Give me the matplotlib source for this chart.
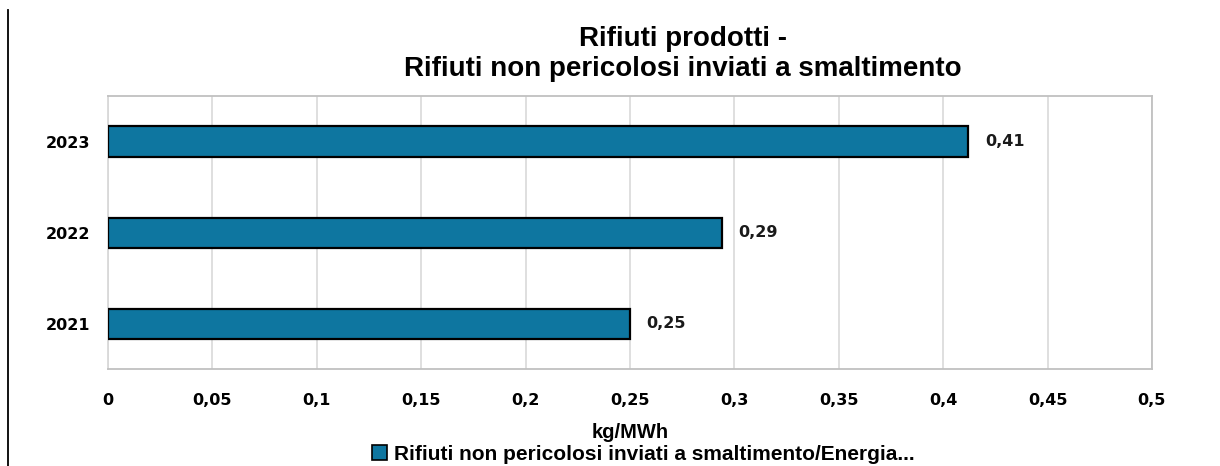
import matplotlib
matplotlib.use('Agg')
import matplotlib.pyplot as plt
from matplotlib.lines import Line2D
from matplotlib.patches import Patch

plt.rcParams['font.family'] = ['Liberation Sans', 'DejaVu Sans']

# kg/MWh of non-hazardous waste sent to disposal
years = ['2021', '2022', '2023']
values = [0.25, 0.294, 0.412]
xticks = [0, 0.05, 0.1, 0.15, 0.2, 0.25, 0.3, 0.35, 0.4, 0.45, 0.5]

BAR_COLOR = '#0e76a0'
GRID = '#d9d9d9'
TICK_FONT = dict(family=['DejaVu Sans'], weight='bold', size=11.5)

fig = plt.figure(figsize=(12.2, 4.66), dpi=100)
ax = fig.add_axes([0.0885, 0.208, 0.8557, 0.586])

y = range(len(years))
ax.barh(y, values, height=0.33, color=BAR_COLOR, edgecolor='black', linewidth=1.6, zorder=3)

for i, v in enumerate(values):
    ax.text(v + 0.008, i, f'{v:.2f}'.replace('.', ','), va='center', ha='left',
            color='#1a1a1a', **TICK_FONT)

ax.set_xlim(0, 0.5)
ax.set_ylim(-0.5, 2.5)
ax.set_xticks(xticks)
ax.set_xticklabels([f'{t:g}'.replace('.', ',') for t in xticks], **TICK_FONT)
ax.set_yticks(list(y))
ax.set_yticklabels(years, **TICK_FONT)
ax.tick_params(axis='both', length=0)
ax.tick_params(axis='x', pad=17)
ax.tick_params(axis='y', pad=13)

ax.xaxis.grid(True, color=GRID, linewidth=1.2, zorder=0)
ax.set_axisbelow(True)
for s in ax.spines.values():
    s.set_color('#c0c0c0')
    s.set_linewidth(1.3)
ax.spines['left'].set_color(GRID)

ax.set_xlabel('kg/MWh', fontsize=14.5, fontweight='bold', labelpad=11)

fig.text(0.56, 0.884, 'Rifiuti prodotti -\nRifiuti non pericolosi inviati a smaltimento',
         ha='center', va='center', fontsize=20, fontweight='bold', linespacing=1.2)

handle = Patch(facecolor=BAR_COLOR, edgecolor='black', linewidth=1.2)
fig.legend([handle], ['Rifiuti non pericolosi inviati a smaltimento/Energia...'],
           loc='center', bbox_to_anchor=(0.527, 0.025), frameon=False,
           handlelength=0.75, handleheight=0.75, handletextpad=0.3,
           prop={'weight': 'bold', 'size': 15})

# thin frame line on the left edge
fig.add_artist(Line2D([0.0066, 0.0066], [0.0, 0.978], color='black', linewidth=1.3))

fig.savefig('out.png', dpi=100)
